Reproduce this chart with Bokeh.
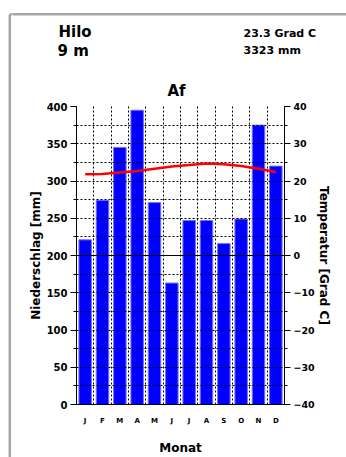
from bokeh.plotting import figure
from bokeh.layouts import row, column
from bokeh.models import (Range1d, LinearAxis, SingleIntervalTicker, FixedTicker,
                          Span, Label, ColumnDataSource)
from bokeh.embed import file_html
from bokeh.resources import INLINE

# ---- data ----
month_labels = ["J", "F", "M", "A", "M", "J", "J", "A", "S", "O", "N", "D"]
month_pos = [1, 2, 3, 4, 5, 6, 7, 8, 9, 10, 11, 12]
precip_mm = [221, 274, 345, 395, 271, 163, 247, 247, 216, 249, 375, 320]
temp_c = [21.8, 21.9, 22.3, 22.7, 23.3, 23.9, 24.3, 24.7, 24.5, 24.0, 23.3, 22.4]
station = "Hilo"
elevation = "9 m"
mean_temp_text = "23.3 Grad C"
total_precip_text = "3323 mm"
climate_class = "Af"

FONT = "DejaVu Sans"
BORDER = "#a6a6a6"
STRIP_W = 12
HEAD_H = 100
W, H = 346, 457
FRAME_TOP, FRAME_BOTTOM, FRAME_LEFT, FRAME_RIGHT = 106, 405, 76, 284


def blank(width, height):
    f = figure(width=width, height=height, x_range=Range1d(0, width), y_range=Range1d(height, 0),
               output_backend="svg", toolbar_location=None, min_border=0,
               x_axis_location=None, y_axis_location=None)
    f.grid.visible = False
    f.outline_line_color = None
    f.background_fill_color = "white"
    f.border_fill_color = "white"
    return f


# ---- left strip with the frame line ----
strip = blank(STRIP_W, H)
strip.segment(x0=[9.3, 9.3], y0=[13.8, 13.8], x1=[9.3, STRIP_W + 2], y1=[H + 2, 13.8],
              line_color=BORDER, line_width=2.5)

# ---- header with the station texts ----
head = blank(W - STRIP_W, HEAD_H)
head.segment(x0=[-2], y0=[13.8], x1=[W], y1=[13.8], line_color=BORDER, line_width=2.5)


def lab(x, y, text, size, align="left"):
    head.add_layout(Label(x=x - STRIP_W, y=y, text=text, text_font=FONT, text_font_style="bold",
                          text_font_size=size, text_align=align, text_baseline="middle",
                          text_color="black"))


lab(58, 31, station, "15px")
lab(57, 50, elevation, "15px")
lab(243, 33, mean_temp_text, "11px")
lab(243, 50, total_precip_text, "11px")
lab(176, 90, climate_class, "15px", align="center")

# ---- main chart ----
src = ColumnDataSource(dict(x=month_pos, p=precip_mm, t=temp_c))

p = figure(width=W - STRIP_W, height=H - HEAD_H, x_range=Range1d(0.5, 12.5), y_range=Range1d(0, 400),
           output_backend="svg", toolbar_location=None,
           min_border_left=FRAME_LEFT - STRIP_W, min_border_right=W - FRAME_RIGHT,
           min_border_top=FRAME_TOP - HEAD_H, min_border_bottom=H - FRAME_BOTTOM)
p.extra_y_ranges = {"temp": Range1d(-40, 40)}
p.outline_line_color = None
p.background_fill_color = "white"
p.border_fill_color = "white"

p.vbar(x="x", top="p", width=0.72, source=src, fill_color="#0000ff",
       line_color="#6f6fff", line_width=1)

p.ygrid.ticker = FixedTicker(ticks=list(range(25, 401, 25)))
p.xgrid.ticker = FixedTicker(ticks=[m + 0.5 for m in month_pos[:-1]])
for g in (p.xgrid, p.ygrid):
    g.grid_line_color = "black"
    g.grid_line_dash = "2 2"
    g.grid_line_width = 1
    g.level = "guide"

p.add_layout(Span(location=200, dimension="width", line_color="black", line_width=1.2))

r = p.line(x="x", y="t", source=src, y_range_name="temp", line_color="#ff0000", line_width=2.5)
r.level = "annotation"

ya = p.yaxis[0]
ya.ticker = SingleIntervalTicker(interval=50, num_minor_ticks=2)
ya.axis_label = "Niederschlag [mm]"
ya.axis_label_standoff = 1

ra = LinearAxis(y_range_name="temp", ticker=SingleIntervalTicker(interval=10, num_minor_ticks=2),
                axis_label="Temperatur [Grad C]")
p.add_layout(ra, "right")
ra.axis_label_standoff = -1

for ax in (ya, ra):
    ax.major_tick_out = 6
    ax.major_tick_in = 0
    ax.minor_tick_out = 3
    ax.minor_tick_in = 0
    ax.major_label_standoff = 3
    ax.major_label_text_font_size = "10px"
ra.major_label_text_font_size = "9.5px"

xa = p.xaxis[0]
xa.ticker = FixedTicker(ticks=month_pos)
xa.major_label_overrides = {m: lab_ for m, lab_ in zip(month_pos, month_labels)}
xa.major_tick_out = 0
xa.major_tick_in = 0
xa.minor_tick_out = 0
xa.minor_tick_in = 0
xa.major_label_standoff = 12
xa.axis_label = "Monat"
xa.axis_label_standoff = 13
xa.major_label_text_font_size = "7px"

for ax in (ya, ra, xa):
    ax.axis_line_color = "black"
    ax.axis_line_width = 1
    ax.major_tick_line_color = "black"
    ax.minor_tick_line_color = "black"
    ax.major_label_text_font = FONT
    ax.major_label_text_font_style = "bold"
    ax.major_label_text_color = "black"
    ax.axis_label_text_font = FONT
    ax.axis_label_text_font_style = "bold"
    ax.axis_label_text_font_size = "12px"
    ax.axis_label_text_color = "black"

layout = row(strip, column(row(head, spacing=0), p, spacing=0), spacing=0)

open("out.html", "w").write(file_html(layout, INLINE))
